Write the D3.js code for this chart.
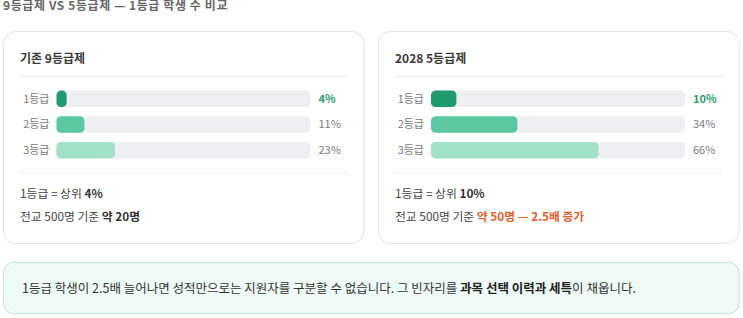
<!DOCTYPE html>
<html>
<head>
<meta charset="utf-8">
<script src="https://cdn.jsdelivr.net/npm/d3@7"></script>
<style>
  html, body { margin: 0; padding: 0; background: #fff; }
  svg { display: block; font-family: "Noto Sans CJK KR", "Noto Sans", sans-serif; }
</style>
</head>
<body>
<div id="chart"></div>
<script>
var width = 743, height = 318;

// data
var grades = ["1등급", "2등급", "3등급"];
var systems = ["기존 9등급제", "2028 5등급제"];
var oldValues = [4, 11, 23];
var newValues = [10, 34, 66];
var barColors = ["#1f9b6f", "#5cc8a2", "#a2e0c7"];
var topShare = ["4%", "10%"];

var svg = d3.select("#chart")
    .append("svg")
        .attr("width", width)
        .attr("height", height);

// page title (sits right at the top edge like the source)
svg.append("text")
    .attr("x", 3)
    .attr("y", 10)
    .attr("fill", "#666")
    .attr("font-size", 12)
    .attr("font-weight", 700)
    .attr("letter-spacing", 0.6)
    .text("9등급제 VS 5등급제 — 1등급 학생 수 비교");

var cardX = [3.5, 378.5], cardW = 360.5, cardY = 31.5, cardH = 212;

var x = d3.scaleLinear().domain([0, 100]).range([0, 254]);
var y = d3.scaleBand().domain(grades).range([86, 163]).paddingInner(0.36).paddingOuter(0.18);

function card(i, values) {
    var g = svg.append("g")
        .attr("transform", "translate(" + cardX[i] + "," + cardY + ")");

    g.append("rect")
        .attr("width", cardW).attr("height", cardH)
        .attr("rx", 12)
        .attr("fill", "#fff")
        .attr("stroke", "#e4e4e6");

    g.append("text")
        .attr("x", 16.5).attr("y", 31.5)
        .attr("fill", "#3a3a3a")
        .attr("font-size", 12)
        .attr("font-weight", 700)
        .text(systems[i]);

    [45, 141.5].forEach(function(ly) {
        g.append("line")
            .attr("x1", 16.5).attr("x2", cardW - 16.5)
            .attr("y1", ly).attr("y2", ly)
            .attr("stroke", "#ececee");
    });

    var barX = i == 0 ? 53 : 52.5;
    var rows = g.append("g").attr("transform", "translate(0," + (-cardY) + ")");

    rows.selectAll(".track")
        .data(grades)
      .enter().append("rect")
        .attr("class", "track")
        .attr("x", barX)
        .attr("y", function(d) { return y(d); })
        .attr("width", x(100))
        .attr("height", y.bandwidth())
        .attr("rx", 4.5)
        .attr("fill", "#efeff2");

    rows.selectAll(".bar")
        .data(values)
      .enter().append("rect")
        .attr("class", "bar")
        .attr("x", barX)
        .attr("y", function(d, j) { return y(grades[j]); })
        .attr("width", function(d) { return x(d); })
        .attr("height", y.bandwidth())
        .attr("rx", 4.5)
        .attr("fill", function(d, j) { return barColors[j]; });

    rows.selectAll(".lab")
        .data(grades)
      .enter().append("text")
        .attr("x", barX - 7)
        .attr("y", function(d) { return y(d) + y.bandwidth() / 2; })
        .attr("dy", "0.35em")
        .attr("text-anchor", "end")
        .attr("fill", "#7a7a7a")
        .attr("font-size", 11)
        .text(function(d) { return d; });

    rows.selectAll(".val")
        .data(values)
      .enter().append("text")
        .attr("x", barX + x(100) + 8)
        .attr("y", function(d, j) { return y(grades[j]) + y.bandwidth() / 2; })
        .attr("dy", "0.35em")
        .attr("fill", function(d, j) { return j == 0 ? "#2a9c72" : "#7a7a7a"; })
        .attr("font-weight", function(d, j) { return j == 0 ? 700 : 400; })
        .attr("font-size", 11)
        .text(function(d) { return d + "%"; });

    var t1 = g.append("text")
        .attr("x", 16.5).attr("y", 166.5)
        .attr("fill", "#444")
        .attr("font-size", 11.8);
    t1.append("tspan").text("1등급 = 상위 ");
    t1.append("tspan").attr("font-weight", 700).attr("fill", "#333").text(topShare[i]);

    var t2 = g.append("text")
        .attr("x", 16.5).attr("y", 189.5)
        .attr("fill", "#444")
        .attr("font-size", 11.8);
    t2.append("tspan").text("전교 500명 기준 ");
    if (i == 0) {
        t2.append("tspan").attr("font-weight", 700).attr("fill", "#333").text("약 20명");
    } else {
        t2.append("tspan").attr("font-weight", 700).attr("fill", "#e0602f").text("약 50명 — 2.5배 증가");
    }
}

card(0, oldValues);
card(1, newValues);

// bottom note
svg.append("rect")
    .attr("x", 3.5).attr("y", 262.5)
    .attr("width", 735.5).attr("height", 51)
    .attr("rx", 10)
    .attr("fill", "#eefaf5")
    .attr("stroke", "#bfe6d5");

var note = svg.append("text")
    .attr("x", 22).attr("y", 292.5)
    .attr("fill", "#333")
    .attr("font-size", 12.5);
note.append("tspan").text("1등급 학생이 2.5배 늘어나면 성적만으로는 지원자를 구분할 수 없습니다. 그 빈자리를 ");
note.append("tspan").attr("font-weight", 700).attr("fill", "#222").text("과목 선택 이력과 세특");
note.append("tspan").text("이 채웁니다.");
</script>
</body>
</html>
